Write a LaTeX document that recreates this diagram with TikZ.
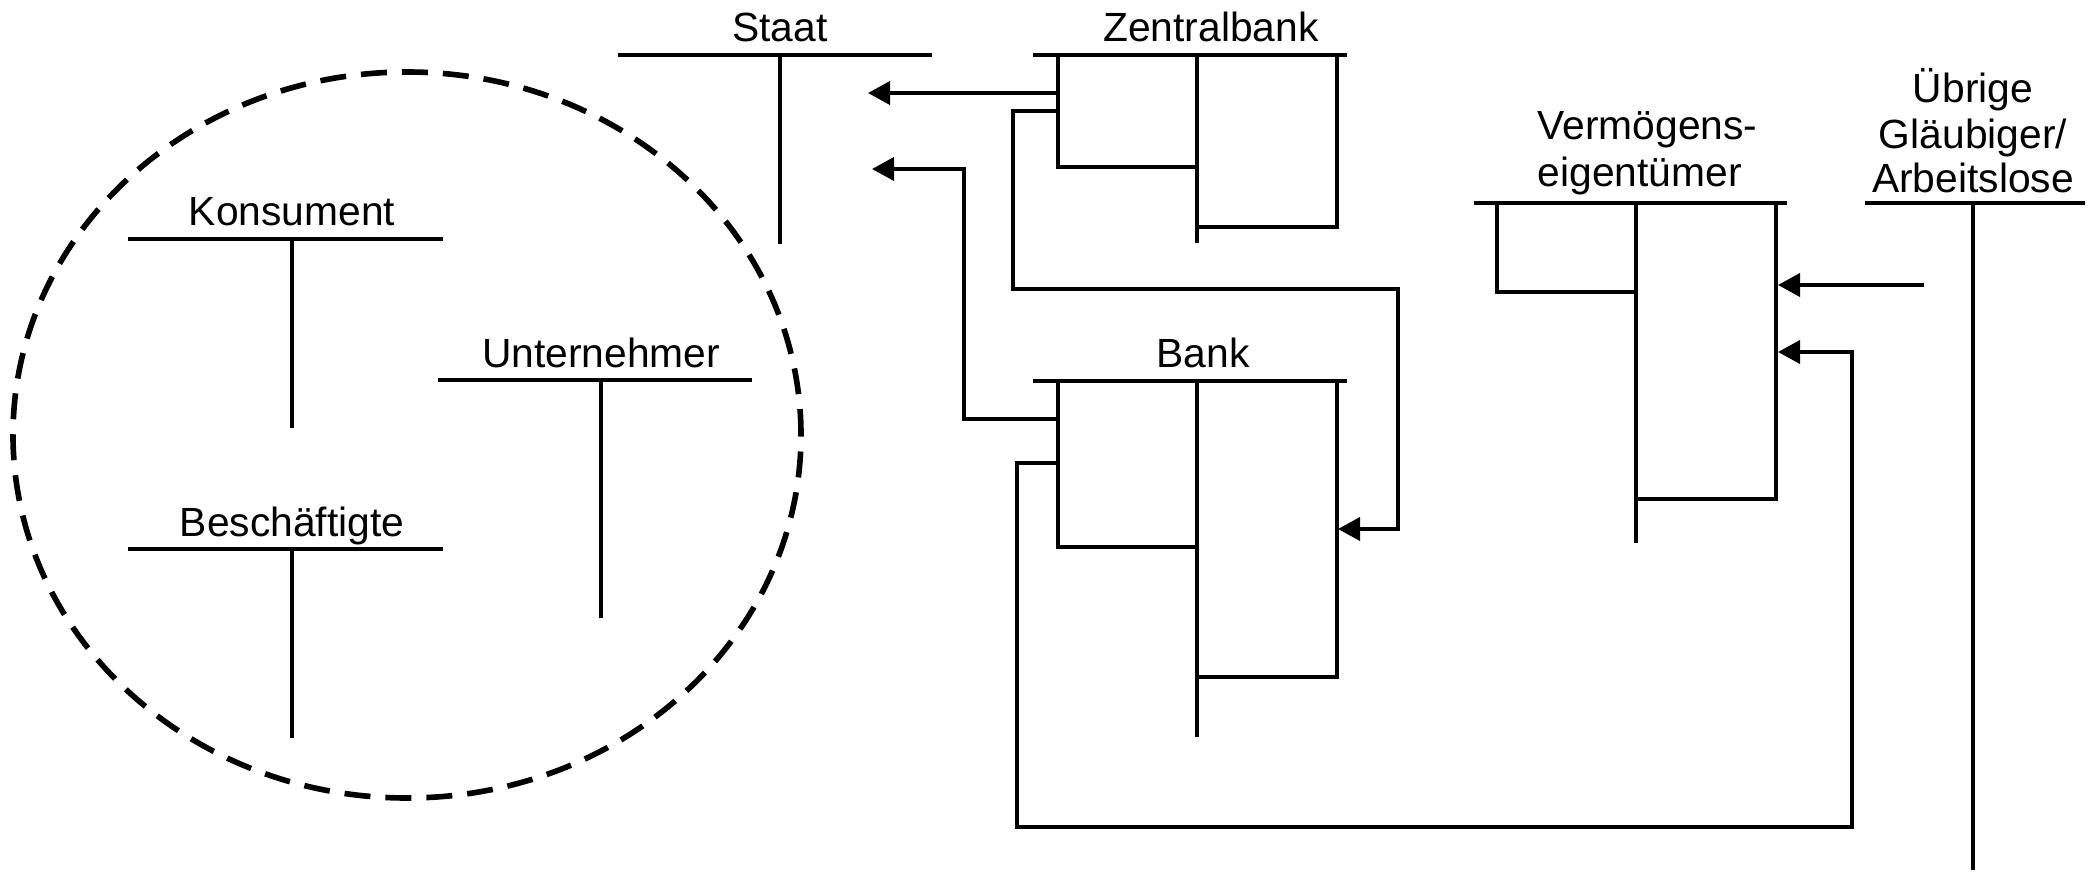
\documentclass[tikz,border=0pt]{standalone}
\usepackage{fontspec}
\setmainfont{Liberation Sans}
\usetikzlibrary{arrows.meta,
  calc,
  positioning
}
\tikzset{
  kontoline/.style={line width=1.4pt},
  stemline/.style={line width=1.1pt},
  flow/.style={line width=1.1pt, -{Triangle[length=2.2mm,width=2.3mm]}},
  lbl/.style={font=\fontsize{11.6}{13.2}\selectfont, inner sep=0pt, anchor=base}
}

\begin{document}
\begin{tikzpicture}
  \useasboundingbox (0,0) rectangle (20.98,-8.72);

  % private sector
  \draw[line width=1.6pt, dash pattern=on 2.6mm off 1.5mm]
  (4.07,-4.35) ellipse [x radius=3.94, y radius=3.63];

  % simple accounts
  \foreach \n/\t/\xa/\xs/\xb/\y/\ye in {
    staat/Staat/6.18/7.80/9.32/-0.55/-2.44,
    kons/Konsument/1.28/2.92/4.43/-2.39/-4.28,
    unt/Unternehmer/4.38/6.01/7.52/-3.80/-6.18,
    besch/Beschäftigte/1.28/2.92/4.43/-5.49/-7.38} {
    \draw[kontoline] (\xa,\y) -- (\xb,\y);
    \draw[stemline] (\xs,\y) -- (\xs,\ye);
    \node[lbl] (\n) at (\xs,{\y+0.13}) {\t};
  }

  % other creditors
  \draw[kontoline] (18.65,-2.03) -- (20.85,-2.03);
  \draw[stemline] (19.73,-2.03) -- (19.73,-8.70);
  \node[lbl] (ueb3) at (19.73,-1.93) {Arbeitslose};
  \node[lbl] (ueb2) at ($(ueb3.base)+(0,0.44)$) {Gläubiger/};
  \node[lbl] (ueb1) at ($(ueb2.base)+(0,0.46)$) {Übrige};

  % balance accounts
  \foreach \n/\xa/\xl/\xs/\xr/\xb/\y/\yl/\yr/\ye in {
    zb/10.33/10.58/11.97/13.37/13.47/-0.55/-1.67/-2.27/-2.43,
    bank/10.33/10.58/11.97/13.37/13.47/-3.81/-5.47/-6.77/-7.37,
    verm/14.74/14.97/16.36/17.76/17.87/-2.03/-2.92/-4.99/-5.43} {
    \draw[kontoline] (\xa,\y) -- (\xb,\y);
    \draw[stemline] (\xs,\y) -- (\xs,\ye);
    \draw[stemline] (\xl,\y) |- (\xs,\yl);
    \draw[stemline] (\xr,\y) |- (\xs,\yr);
  }
  \node[lbl] (zbl) at (12.11,-0.42) {Zentralbank};
  \node[lbl] (bankl) at (12.03,-3.67) {Bank};
  \node[lbl, anchor=base west] (verm2) at (15.37,-1.87) {eigentümer};
  \node[lbl, anchor=base west] (verm1) at ($(verm2.base west)+(0,0.47)$) {Vermögens-};

  % ports
  \coordinate (zb-a) at (10.58,-0.93);
  \coordinate (zb-b) at (10.58,-1.11);
  \coordinate (bank-a) at (10.58,-4.19);
  \coordinate (bank-b) at (10.58,-4.63);
  \coordinate (staat-a) at (8.68,-0.93);
  \coordinate (staat-b) at (8.72,-1.69);
  \coordinate (bank-in) at (13.38,-5.29);
  \coordinate (verm-a) at (17.78,-2.85);
  \coordinate (verm-b) at (17.78,-3.52);
  \coordinate (ueb-a) at (19.24,-2.85);

  % flows
  \draw[flow] (zb-a) -- (staat-a);
  \draw[flow] (bank-a) -| (9.64,-1.69) -- (staat-b);
  \draw[flow] (zb-b) -| (10.13,-2.89) -| (13.98,-5.29) -- (bank-in);
  \draw[flow] (bank-b) -| (10.17,-8.27) -| (18.52,-3.52) -- (verm-b);
  \draw[flow] (ueb-a) -- (verm-a);
\end{tikzpicture}
\end{document}
